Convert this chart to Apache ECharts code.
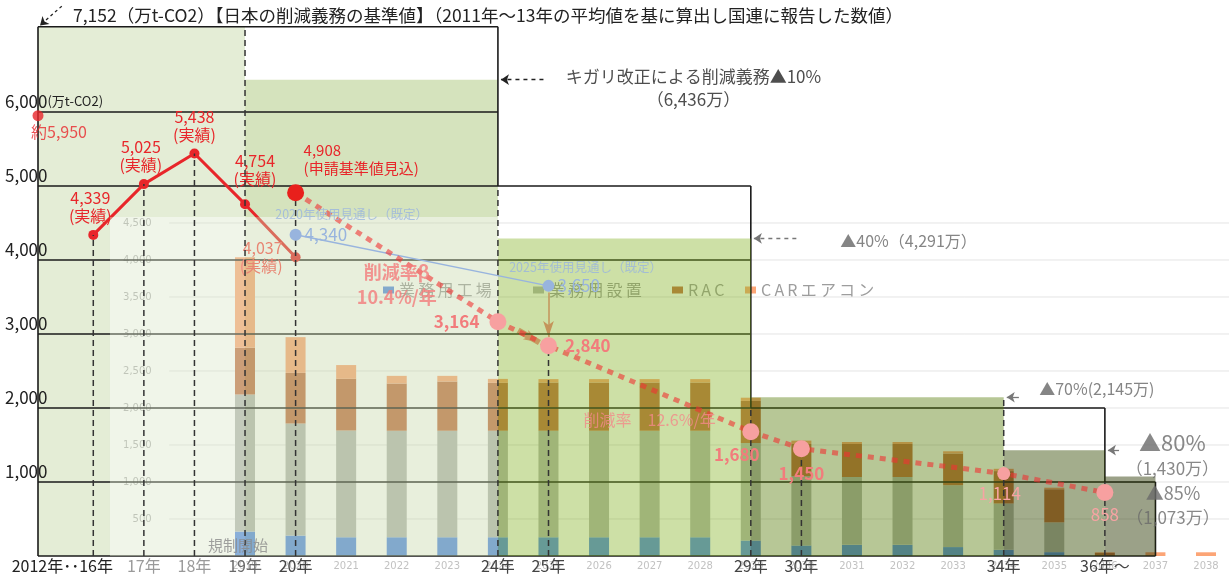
<!DOCTYPE html>
<html lang="ja">
<head>
<meta charset="utf-8">
<title>キガリ改正 削減義務</title>
<script src="https://cdn.jsdelivr.net/npm/echarts@6.0.0/dist/echarts.min.js"></script>
<style>
  html, body { margin: 0; padding: 0; background: #fff; }
  #chart { width: 1229px; height: 577px; }
</style>
</head>
<body>
<div id="chart"></div>
<script>
// 実績（2012年は「2012年・・」として軸の左端に詰めて表示）
const baseYearValue = 5950;
const actualYears = [2016, 2017, 2018, 2019, 2020];
const actualValues = [4339, 5025, 5438, 4754, 4037];

// 申請基準値見込からの削減見通し
const planYears = [2020, 2024, 2025, 2029, 2030, 2034, 2036];
const planValues = [4908, 3164, 2840, 1680, 1450, 1114, 858];

// 使用見通し（既定）
const forecastYears = [2020, 2025];
const forecastValues = [4340, 3650];
const forecastNotes = ['2020年使用見通し（既定）', '2025年使用見通し（既定）'];

// 削減義務の段階
const baseLevel = 7152;
const stepStart = [2019, 2024, 2029, 2034, 2036];
const stepEnd = [2024, 2029, 2034, 2036, 2037];
const stepLevel = [6436, 4291, 2145, 1430, 1073];
const stepNotes = ['キガリ改正による削減義務▲10%\n（6,436万）', '▲40%（4,291万）', '▲70%(2,145万)', '▲80%\n（1,430万）', '▲85%\n（1,073万）'];

// 外枠の段と目盛
const frameEnd = [2024, 2029, 2036, 2037];
const frameLevel = [7152, 5000, 2000, 1000];
const gridValues = [1000, 2000, 3000, 4000, 5000, 6000];
const guideYears = [2016, 2017, 2018, 2019, 2020, 2024, 2025, 2029, 2030, 2034, 2036];
const guideTops = [4339, 5025, 5438, 7152, 4908, 5000, 2840, 2000, 1450, 2145, 1000];
const yearLabels = ['2012年･･16年', '17年', '18年', '19年', '20年', '24年', '25年', '29年', '30年', '34年', '36年～'];

// 分野別の使用見通し（内側の棒グラフ）
const barYears = ['2019', '2020', '2021', '2022', '2023', '2024', '2025', '2026', '2027', '2028', '2029', '2030', '2031', '2032', '2033', '2034', '2035', '2036', '2037', '2038'];
const kogyo  = [330, 276, 253, 253, 253, 253, 253, 253, 253, 253, 209, 142, 151, 151, 120, 84, 52, 0, 0, 0];
const secchi = [1853, 1515, 1444, 1440, 1440, 1440, 1440, 1440, 1440, 1440, 1318, 938, 916, 916, 836, 625, 402, 0, 0, 0];
const rac    = [631, 683, 697, 638, 665, 647, 652, 652, 652, 652, 568, 433, 446, 446, 429, 438, 448, 40, 0, 0];
const car    = [1223, 483, 186, 103, 76, 53, 45, 45, 45, 45, 44, 46, 27, 27, 30, 31, 21, 10, 50, 50];
const barNames = ['業務用工場', '業務用設置', 'RAC', 'CARエアコン'];
const innerTicks = [500, 1000, 1500, 2000, 2500, 3000, 3500, 4000, 4500];

// 軸の範囲
const X_MIN = 2014.907, X_MAX = 2038.454;
const Y_MIN = -284, Y_MAX = 7513;
const INNER_LEFT = 2016.33, INNER_TOP = 4580, INNER_GRID_FROM = 2017.5;

const FONT = '"Noto Sans CJK JP", "Noto Sans", sans-serif';
const RED = '#e8262a', PINK = '#f27c7c', BLUE = '#98b4de';
const fmt = v => v.toLocaleString('en-US');

function rectSeries(name, rows, fills, z) {
  return {
    type: 'custom', name: name, z: z, silent: true,
    renderItem: function (params, api) {
      const a = api.coord([api.value(0), api.value(2)]);
      const b = api.coord([api.value(1), api.value(3)]);
      return {
        type: 'rect',
        shape: {x: a[0], y: a[1], width: b[0] - a[0], height: b[1] - a[1]},
        style: {fill: fills[params.dataIndex]}
      };
    },
    data: rows
  };
}

function segSeries(name, rows, style, z) {
  return {
    type: 'custom', name: name, z: z, silent: true,
    renderItem: function (params, api) {
      const a = api.coord([api.value(0), api.value(1)]);
      const b = api.coord([api.value(2), api.value(3)]);
      return {
        type: 'line',
        shape: {x1: a[0], y1: a[1], x2: b[0], y2: b[1]},
        style: Object.assign({}, style)
      };
    },
    data: rows
  };
}

// 外枠
const frameRows = [[X_MIN, 0, X_MIN, baseLevel], [X_MIN, baseLevel, frameEnd[0], baseLevel]];
frameEnd.forEach((x, i) => {
  frameRows.push([x, frameLevel[i], x, i + 1 < frameLevel.length ? frameLevel[i + 1] : 0]);
});
gridValues.concat([0]).forEach(v => {
  let end = X_MIN;
  frameEnd.forEach((x, i) => { if (frameLevel[i] >= v) end = Math.max(end, x); });
  frameRows.push([X_MIN, v, end, v]);
});

const guideRows = guideYears.map((y, i) => [y, 0, y, guideTops[i]]);
const innerGridRows = innerTicks.map(v => [INNER_GRID_FROM, v, X_MAX, v]);

// 棒グラフの上に重ねる段階ごとの色
const veilRows = [[INNER_LEFT, stepStart[0], INNER_TOP, 0], [stepStart[0], stepEnd[0], INNER_TOP, 0]]
  .concat(stepStart.slice(1).map((x, i) => [x, stepEnd[i + 1], stepLevel[i + 1], 0]));
const veilFills = ['rgba(218,230,200,0.4)', 'rgba(198,215,168,0.4)', 'rgba(130,178,33,0.4)',
  'rgba(83,121,5,0.42)', 'rgba(51,73,0,0.45)', 'rgba(43,55,2,0.47)'];

const actualLabel = [
  {position: 'top', offset: [-3, 0]},
  {position: 'top', offset: [-3, 0]},
  {position: 'top'},
  {position: 'top', offset: [10, -6]},
  {position: 'left', distance: 8, color: '#ff5050'}
];
const planLabel = [
  {position: 'top', align: 'left', offset: [8, -2], color: RED, fontWeight: 'normal', fontSize: 15,
   formatter: p => fmt(p.value[1]) + '\n(申請基準値見込)'},
  {position: 'left', distance: 10},
  {position: 'right', distance: 8},
  {position: 'bottom', offset: [-14, 0]},
  {position: 'bottom', offset: [0, 2]},
  {position: 'bottom', offset: [-4, 0], fontWeight: 'normal', color: '#f7a3a3'},
  {position: 'bottom', fontWeight: 'normal', color: '#f7a3a3'}
];

const noteStyle = [
  {position: 'right', align: 'center', offset: [190, 8], color: '#222', fontSize: 17, lineHeight: 23},
  {position: 'right', distance: 5, offset: [84, 2], color: '#666', fontSize: 16},
  {position: 'right', distance: 5, offset: [30, -8], color: '#666', fontSize: 16},
  {position: 'right', align: 'center', offset: [62, 4], color: '#6a6a6a',
   rich: {a: {fontSize: 22, color: '#6a6a6a', lineHeight: 28}, b: {fontSize: 17, color: '#6a6a6a', lineHeight: 24}}},
  {position: 'right', align: 'center', offset: [12, 29], color: '#6a6a6a',
   rich: {a: {fontSize: 18, color: '#6a6a6a', lineHeight: 24}, b: {fontSize: 17, color: '#6a6a6a', lineHeight: 24}}}
];

const notesData = stepNotes.map((t, i) => {
  const s = noteStyle[i];
  const lines = t.split('\n');
  const text = s.rich ? '{a|' + lines[0] + '}\n{b|' + lines[1] + '}' : t;
  return {value: [stepEnd[i], stepLevel[i]], label: Object.assign({show: true, formatter: text}, s)};
});
notesData.push(
  {value: [2019, 140], label: {show: true, position: 'inside', offset: [-7, 0], formatter: '規制開始', color: '#8a8a8a', fontSize: 15}},
  {value: [2022, 3660], label: {show: true, position: 'inside', formatter: '削減率β\n10.4%/年', color: PINK, fontSize: 18, fontWeight: 'bold', lineHeight: 25}},
  {value: [2027, 1840], label: {show: true, position: 'inside', formatter: '削減率　12.6%/年', color: '#f28a8a', fontSize: 16}}
);

const arrowLen = [0.9, 0.9, 0.3, 0.28];
const noteArrows = arrowLen.map((len, i) => [
  {coord: [stepEnd[i] + len, stepLevel[i]], lineStyle: {type: i < 2 ? [4, 4] : 'solid', color: i === 0 ? '#222' : '#777', width: 1.3}},
  {coord: [stepEnd[i] + 0.06, stepLevel[i]]}
]);
noteArrows.push([
  {coord: [X_MIN + 0.47, 7430], lineStyle: {type: [3, 3], color: '#222', width: 1.3}},
  {coord: [X_MIN + 0.04, 7170]}
]);

// 凡例は項目ごとに並べる（元図の字間に合わせる）
const legendLeft = [378, 528, 667, 740];
const legends = barNames.map((n, i) => ({
  data: [n], left: legendLeft[i], top: 277, z: 4, icon: 'rect', itemWidth: 11, itemHeight: 7,
  selectedMode: false,
  formatter: name => name.split('').join('\u2009'),
  textStyle: {color: '#9d9d9d', fontSize: 16, fontFamily: FONT}
}));

const chart = echarts.init(document.getElementById('chart'));
chart.setOption({
  animation: false,
  backgroundColor: '#ffffff',
  textStyle: {fontFamily: FONT},
  title: {
    text: '7,152（万t-CO2）【日本の削減義務の基準値】（2011年～13年の平均値を基に算出し国連に報告した数値）',
    left: 68, top: 2,
    textStyle: {fontSize: 17.5, fontWeight: 'normal', color: '#222', fontFamily: FONT}
  },
  grid: [
    {left: 38, right: 0, top: 0, bottom: 0, outerBoundsMode: 'none'},
    {left: 219.7, right: -2.3, top: 0, bottom: 0, outerBoundsMode: 'none'}
  ],
  legend: legends,
  xAxis: [
    {
      type: 'value', gridIndex: 0, position: 'bottom', min: X_MIN, max: X_MAX, z: 10,
      axisLine: {show: false}, axisTick: {show: false}, splitLine: {show: false},
      axisLabel: {
        inside: true, margin: 3, customValues: guideYears, fontSize: 16, fontFamily: FONT,
        color: v => (v < 2019 ? '#9a9a9a' : v < 2020 ? '#6a6a6a' : '#444'),
        formatter: v => {
          const t = yearLabels[guideYears.indexOf(v)];
          return v === guideYears[0] ? '{w|' + t + '}' : t;
        },
        rich: {w: {fontSize: 16, color: '#222', padding: [0, 62, 0, 0], fontFamily: FONT}}
      }
    },
    {
      type: 'category', gridIndex: 1, position: 'bottom', data: barYears, z: 4,
      axisLine: {show: false}, axisTick: {show: false}, splitLine: {show: false},
      axisLabel: {inside: true, interval: 0, margin: 6, fontSize: 10, color: '#c2c2c2', fontFamily: 'DejaVu Sans'}
    }
  ],
  yAxis: [
    {
      type: 'value', gridIndex: 0, position: 'left', min: Y_MIN, max: Y_MAX, z: 10,
      axisLine: {show: false}, axisTick: {show: false}, splitLine: {show: false},
      axisLabel: {
        customValues: gridValues, align: 'left', verticalAlign: 'bottom', margin: 33, padding: [0, 0, 2, 0],
        color: '#222', fontSize: 17, fontFamily: FONT,
        formatter: v => (v === 6000 ? fmt(v) + '{u|(万t-CO2)}' : fmt(v)),
        rich: {u: {fontSize: 13, color: '#222', fontFamily: FONT, padding: [0, 0, 1, 0]}}
      }
    },
    {
      type: 'value', gridIndex: 1, position: 'left', min: Y_MIN, max: Y_MAX, z: 4,
      axisLine: {show: false}, axisTick: {show: false}, splitLine: {show: false},
      axisLabel: {customValues: innerTicks, margin: 68, fontSize: 10, color: '#b0b0b0',
        fontFamily: 'DejaVu Sans', formatter: v => fmt(v)}
    }
  ],
  series: [
    rectSeries('region', [[X_MIN, stepStart[0], baseLevel, 0], [stepStart[0], stepEnd[0], stepLevel[0], 0]],
      ['#e4edd6', '#d5e3bd'], 1),
    rectSeries('innerBg', [[INNER_LEFT, X_MAX, INNER_TOP, Y_MIN]], ['#ffffff'], 2),
    segSeries('innerGrid', innerGridRows, {stroke: '#e4e4e4', lineWidth: 1}, 3),
    ...[kogyo, secchi, rac, car].map((arr, k) => ({
      type: 'bar', name: barNames[k], stack: 'inner', z: 4, silent: true, barWidth: 20,
      xAxisIndex: 1, yAxisIndex: 1,
      itemStyle: {color: ['#558ae4', '#b4b7b2', '#c16e43', '#fca576'][k]},
      data: arr
    })),
    segSeries('frame', frameRows, {stroke: '#1a1a1a', lineWidth: 1.6}, 5),
    {
      type: 'line', name: 'actual', z: 5, silent: true,
      data: actualYears.map((y, i) => ({value: [y, actualValues[i]], label: actualLabel[i]})),
      symbol: 'circle', symbolSize: 10,
      itemStyle: {color: RED},
      lineStyle: {color: RED, width: 3},
      label: {show: true, color: RED, fontSize: 16, lineHeight: 18,
        formatter: p => fmt(p.value[1]) + '\n(実績)'}
    },
    {
      type: 'scatter', name: 'base2012', z: 5, silent: true,
      data: [[X_MIN, baseYearValue]], symbolSize: 11, itemStyle: {color: RED},
      label: {show: true, position: 'bottom', offset: [21, -2], color: RED, fontSize: 16,
        formatter: p => '約' + fmt(p.value[1])}
    },
    rectSeries('veil', veilRows, veilFills, 6),
    segSeries('guides', guideRows, {stroke: '#333', lineWidth: 1.5, lineDash: [6, 4]}, 7),
    {
      type: 'line', name: 'forecast', z: 7, silent: true,
      data: forecastYears.map((y, i) => [y, forecastValues[i]]),
      symbol: 'circle', symbolSize: 12,
      itemStyle: {color: BLUE}, lineStyle: {color: BLUE, width: 1.5},
      label: {show: true, position: 'right', distance: 3, color: BLUE, fontSize: 17, formatter: p => fmt(p.value[1])}
    },
    {
      type: 'scatter', name: 'forecastNotes', z: 7, silent: true, symbolSize: 1,
      itemStyle: {color: 'rgba(0,0,0,0)'},
      data: forecastYears.map((y, i) => ({
        value: [y, forecastValues[i]],
        label: {show: true, position: 'top', distance: i === 0 ? 14 : 6, offset: i === 0 ? [56, 0] : [37, -6],
          color: BLUE, fontSize: 12.5, formatter: forecastNotes[i]}
      }))
    },
    {
      type: 'line', name: 'plan', z: 7, silent: true,
      data: planYears.map((y, i) => ({
        value: [y, planValues[i]],
        symbolSize: i === 0 ? 17 : i === 5 ? 13 : 17,
        itemStyle: {color: i === 0 ? '#e8201c' : '#f7a0a0'},
        label: planLabel[i]
      })),
      symbol: 'circle',
      lineStyle: {color: 'rgba(240,50,50,0.6)', width: 5, type: [6, 6], cap: 'butt'},
      label: {show: true, color: PINK, fontSize: 17, fontWeight: 'bold', lineHeight: 18,
        formatter: p => fmt(p.value[1])},
      markLine: {
        silent: true, symbol: ['none', 'arrow'], label: {show: false},
        data: [
          [{coord: [2025, 3560], symbolSize: 8, lineStyle: {color: '#f08080', width: 1.5, type: 'solid'}}, {coord: [2025, 2960]}],
          [{coord: [2024.4, 3050], symbolSize: 14, lineStyle: {color: '#f48a8a', width: 6, type: 'solid'}}, {coord: [2024.82, 2885]}]
        ]
      }
    },
    {
      type: 'scatter', name: 'notes', z: 8, silent: true, symbolSize: 1,
      itemStyle: {color: 'rgba(0,0,0,0)'},
      data: notesData,
      markLine: {silent: true, symbol: ['none', 'arrow'], symbolSize: 8, label: {show: false}, data: noteArrows}
    }
  ]
});
</script>
</body>
</html>
